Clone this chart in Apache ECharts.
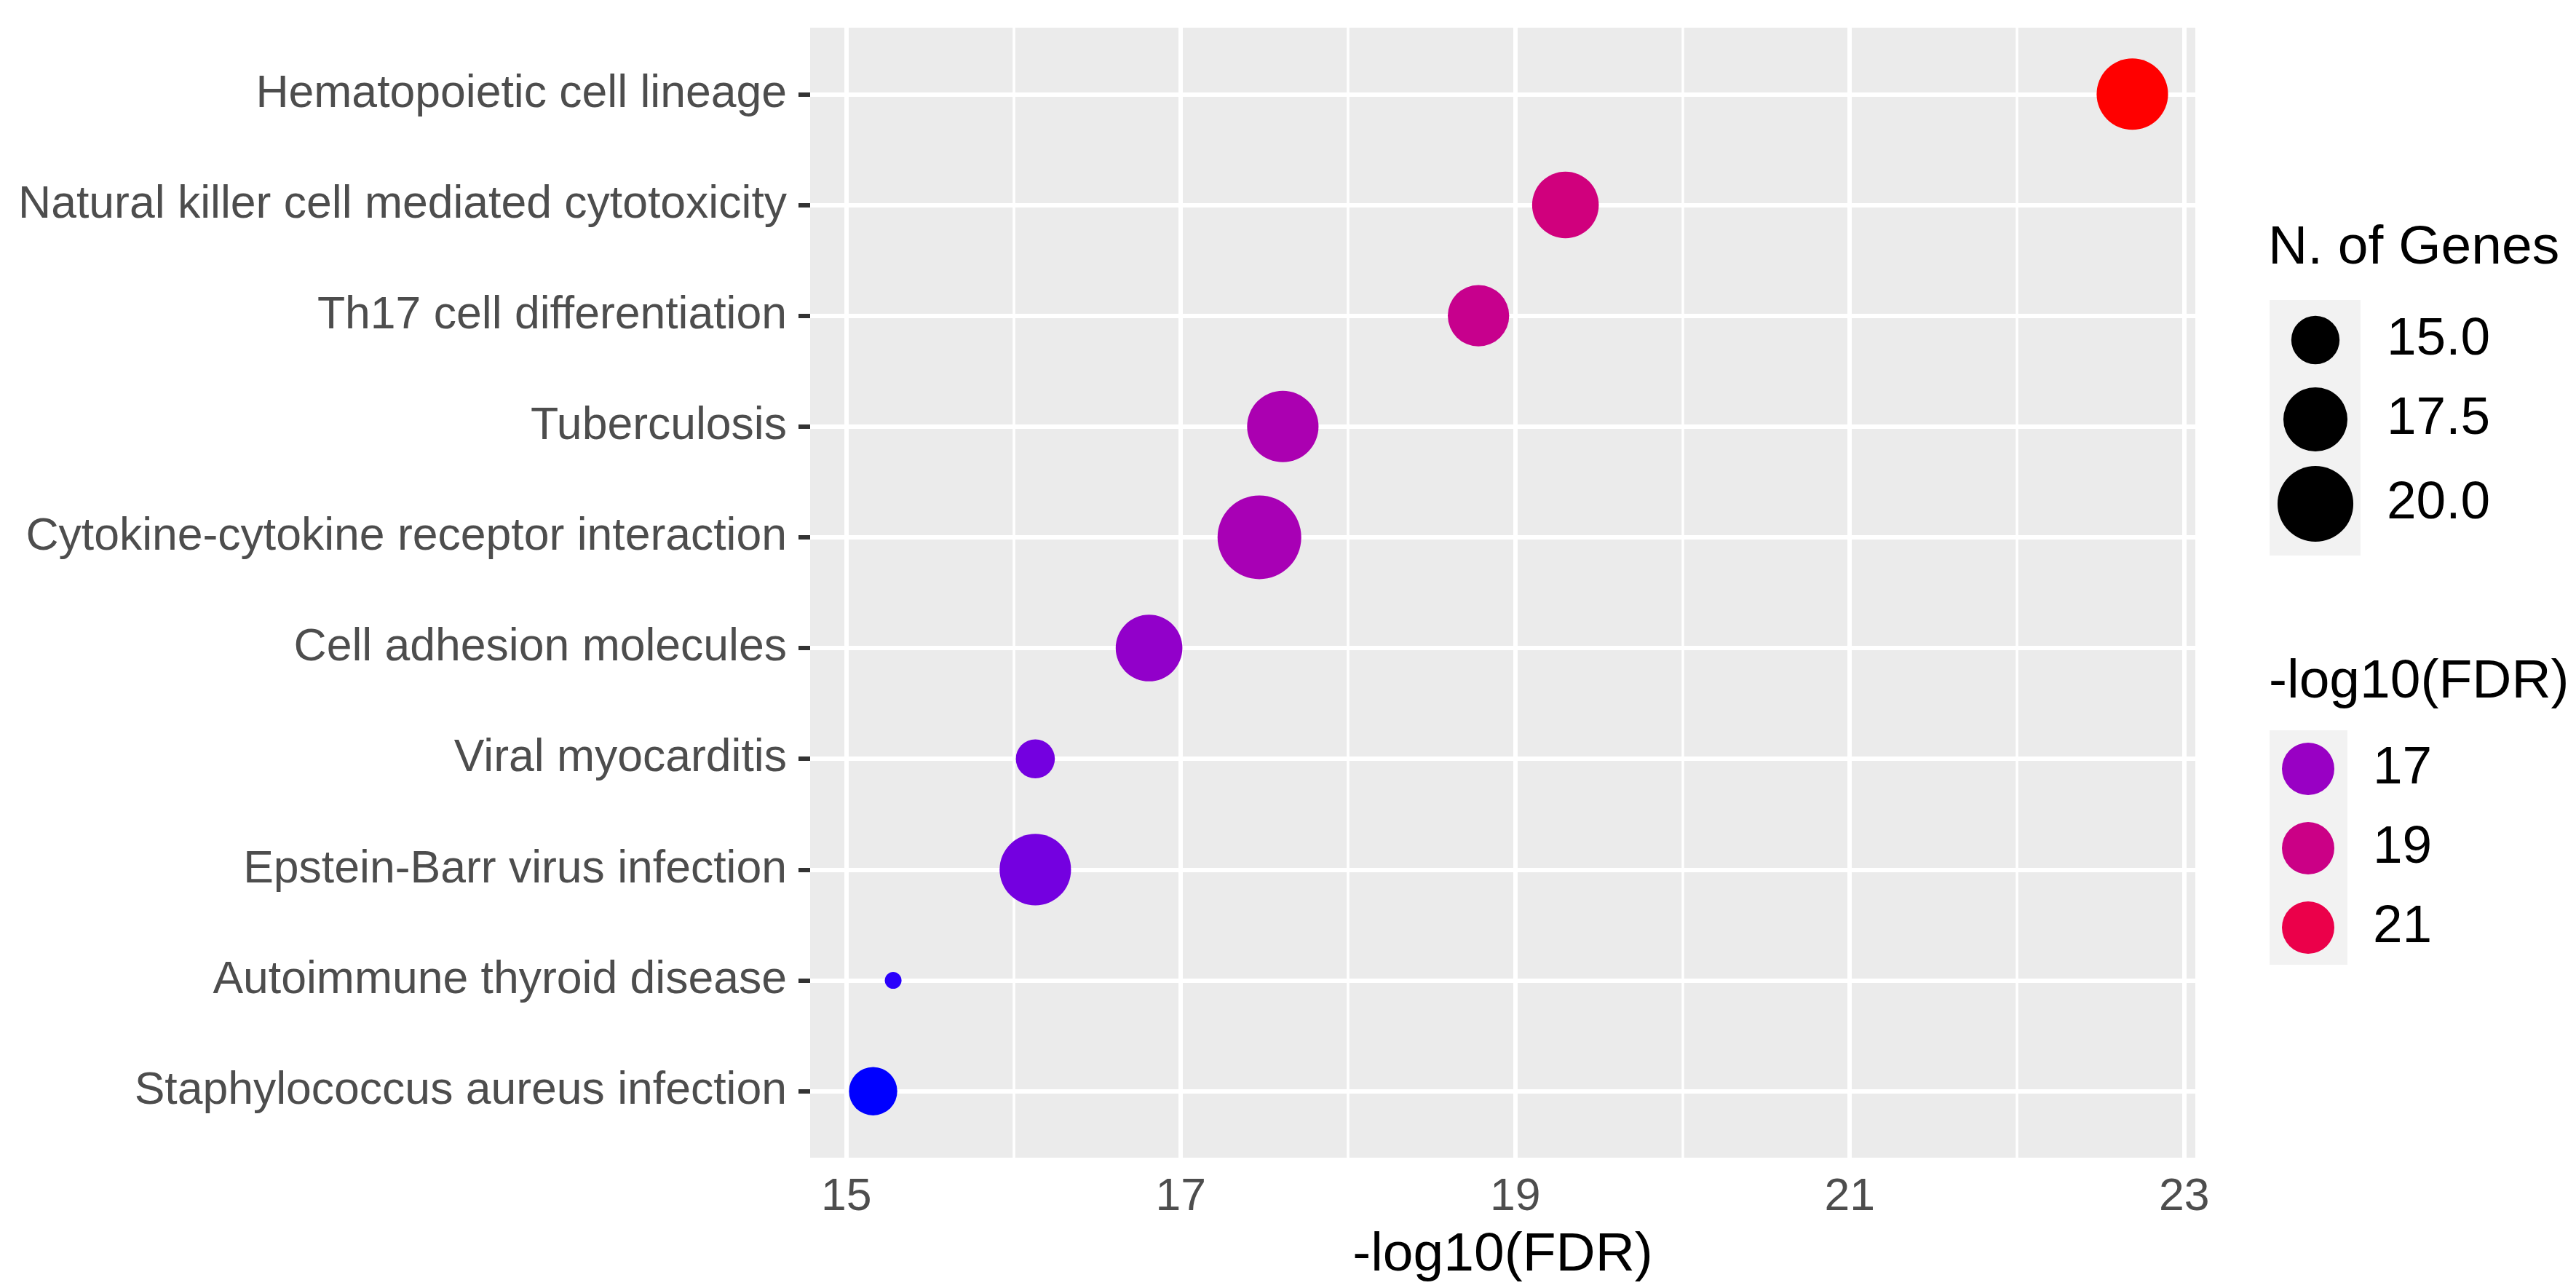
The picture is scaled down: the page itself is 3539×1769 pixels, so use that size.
<!DOCTYPE html>
<html>
<head>
<meta charset="utf-8">
<script src="https://cdn.jsdelivr.net/npm/echarts@6/dist/echarts.min.js"></script>
<style>
  html, body { margin: 0; padding: 0; background: #ffffff; }
  #chart { width: 3539px; height: 1769px; }
</style>
</head>
<body>
<div id="chart"></div>
<script>
// KEGG pathway enrichment: one bubble per pathway
const categories = [
  'Hematopoietic cell lineage',
  'Natural killer cell mediated cytotoxicity',
  'Th17 cell differentiation',
  'Tuberculosis',
  'Cytokine-cytokine receptor interaction',
  'Cell adhesion molecules',
  'Viral myocarditis',
  'Epstein-Barr virus infection',
  'Autoimmune thyroid disease',
  'Staphylococcus aureus infection'
];
const logFDR = [22.69, 19.30, 18.78, 17.61, 17.47, 16.81, 16.13, 16.13, 15.28, 15.16];
const geneCounts = [19, 18, 17, 19, 22, 18, 14, 19, 13, 15];
const xTicks = [15, 17, 19, 21, 23];
const xMinorTicks = [16, 18, 20, 22];
const sizeBreaks = [15.0, 17.5, 20.0];
const colorBreaks = [17, 19, 21];

const FONT = '"Liberation Sans", Arial, Helvetica, sans-serif';

// ---- size scale: area-proportional between smallest and largest count ----
const gMin = Math.min(...geneCounts), gMax = Math.max(...geneCounts);
const D_MIN = 23, D_MAX = 115;
function bubbleSize(g) {
  const t = Math.max(0, (g - gMin) / (gMax - gMin));
  return D_MIN + (D_MAX - D_MIN) * Math.sqrt(t);
}

// ---- colour scale: blue -> red interpolated in CIE Lab ----
function srgbToLin(c) { c /= 255; return c <= 0.04045 ? c / 12.92 : Math.pow((c + 0.055) / 1.055, 2.4); }
function linToSrgb(c) { c = Math.min(1, Math.max(0, c)); return 255 * (c <= 0.0031308 ? 12.92 * c : 1.055 * Math.pow(c, 1 / 2.4) - 0.055); }
const WX = 0.95047, WY = 1.0, WZ = 1.08883;
function rgbToLab(r, g, b) {
  const R = srgbToLin(r), G = srgbToLin(g), B = srgbToLin(b);
  const X = (0.4124 * R + 0.3576 * G + 0.1805 * B) / WX;
  const Y = (0.2126 * R + 0.7152 * G + 0.0722 * B) / WY;
  const Z = (0.0193 * R + 0.1192 * G + 0.9505 * B) / WZ;
  const f = v => v > 0.008856 ? Math.cbrt(v) : 7.787 * v + 16 / 116;
  const fx = f(X), fy = f(Y), fz = f(Z);
  return [116 * fy - 16, 500 * (fx - fy), 200 * (fy - fz)];
}
function labToRgb(L, a, b) {
  const fy = (L + 16) / 116, fx = fy + a / 500, fz = fy - b / 200;
  const fi = t => t > 0.206893 ? t * t * t : (t - 16 / 116) / 7.787;
  const X = fi(fx) * WX, Y = fi(fy) * WY, Z = fi(fz) * WZ;
  const R = 3.2406 * X - 1.5372 * Y - 0.4986 * Z;
  const G = -0.9689 * X + 1.8758 * Y + 0.0415 * Z;
  const B = 0.0557 * X - 0.2040 * Y + 1.0570 * Z;
  return [linToSrgb(R), linToSrgb(G), linToSrgb(B)].map(v => Math.round(v));
}
const LAB_LOW = rgbToLab(0, 0, 255), LAB_HIGH = rgbToLab(255, 0, 0);
const cMin = Math.min(...logFDR), cMax = Math.max(...logFDR);
function fdrColor(v) {
  const t = Math.min(1, Math.max(0, (v - cMin) / (cMax - cMin)));
  const lab = LAB_LOW.map((c, i) => c + (LAB_HIGH[i] - c) * t);
  const rgb = labToRgb(lab[0], lab[1], lab[2]);
  return 'rgb(' + rgb.join(',') + ')';
}

// ---- axis ranges with 5% padding (continuous) / 0.6 step (discrete) ----
const xPad = (cMax - cMin) * 0.05;
const xLo = cMin - xPad, xHi = cMax + xPad;
const yIdx = categories.map((_, i) => i);

const points = categories.map((name, i) => ({
  name: name,
  value: [logFDR[i], i, geneCounts[i]],
  itemStyle: { color: fdrColor(logFDR[i]), opacity: 1 }
}));

const gridLines = []
  .concat(xTicks.map(v => ({ xAxis: v, lineStyle: { color: '#ffffff', width: 6, type: 'solid' } })))
  .concat(xMinorTicks.map(v => ({ xAxis: v, lineStyle: { color: '#ffffff', width: 3.5, type: 'solid' } })))
  .concat(yIdx.map(v => ({ yAxis: v, lineStyle: { color: '#ffffff', width: 6, type: 'solid' } })));

// ---- legends ----
const graphics = [];
function legendText(text, x, y, size, fill) {
  graphics.push({
    type: 'text', silent: true,
    style: { text: text, x: x, y: y, fontSize: size, fontFamily: FONT, fill: fill, align: 'left', verticalAlign: 'middle' }
  });
}
// N. of Genes
legendText('N. of Genes', 3116, 341, 75, '#000000');
graphics.push({ type: 'rect', silent: true, shape: { x: 3118, y: 412, width: 125, height: 351 }, style: { fill: '#F2F2F2' } });
const sizeKeyY = [467, 576, 692];
sizeBreaks.forEach((g, i) => {
  graphics.push({ type: 'circle', silent: true, shape: { cx: 3181, cy: sizeKeyY[i], r: bubbleSize(g) / 2 }, style: { fill: '#000000' } });
  legendText(g.toFixed(1), 3279, sizeKeyY[i], 73, '#000000');
});
// -log10(FDR)
legendText('-log10(FDR)', 3117, 937, 75, '#000000');
graphics.push({ type: 'rect', silent: true, shape: { x: 3118, y: 1003, width: 107, height: 322 }, style: { fill: '#F2F2F2' } });
const colorKeyY = [1056, 1165, 1274];
colorBreaks.forEach((v, i) => {
  graphics.push({ type: 'circle', silent: true, shape: { cx: 3171, cy: colorKeyY[i], r: 36 }, style: { fill: fdrColor(v) } });
  legendText(String(v), 3260, colorKeyY[i], 73, '#000000');
});

const chart = echarts.init(document.getElementById('chart'), null, { renderer: 'canvas' });
chart.setOption({
  animation: false,
  backgroundColor: '#ffffff',
  grid: {
    left: 1113, right: 523, top: 38, bottom: 179,
    show: true, backgroundColor: '#EBEBEB', borderWidth: 0
  },
  xAxis: {
    type: 'value', min: xLo, max: xHi,
    name: '-log10(FDR)', nameLocation: 'middle', nameGap: 97,
    nameTextStyle: { fontSize: 75, color: '#000000', fontFamily: FONT },
    axisLine: { show: false },
    axisTick: { show: true, customValues: xTicks, length: 16, lineStyle: { color: '#333333', width: 6 } },
    axisLabel: { customValues: xTicks, fontSize: 62.5, color: '#4D4D4D', fontFamily: FONT, margin: 23 },
    splitLine: { show: false }
  },
  yAxis: {
    type: 'value', inverse: true, min: -0.6, max: categories.length - 1 + 0.6,
    axisLine: { show: false },
    axisTick: { show: true, customValues: yIdx, length: 16, lineStyle: { color: '#333333', width: 6 } },
    axisLabel: {
      customValues: yIdx, fontSize: 62.5, color: '#4D4D4D', fontFamily: FONT, margin: 32,
      formatter: v => categories[Math.round(v)]
    },
    splitLine: { show: false }
  },
  series: [{
    type: 'scatter',
    z: 3,
    data: points,
    symbol: 'circle',
    symbolSize: val => bubbleSize(val[2]),
    itemStyle: { opacity: 1 },
    emphasis: { disabled: true },
    markLine: {
      z: 1, silent: true, symbol: ['none', 'none'], label: { show: false },
      emphasis: { disabled: true },
      data: gridLines
    }
  }],
  graphic: graphics
});
</script>
</body>
</html>
